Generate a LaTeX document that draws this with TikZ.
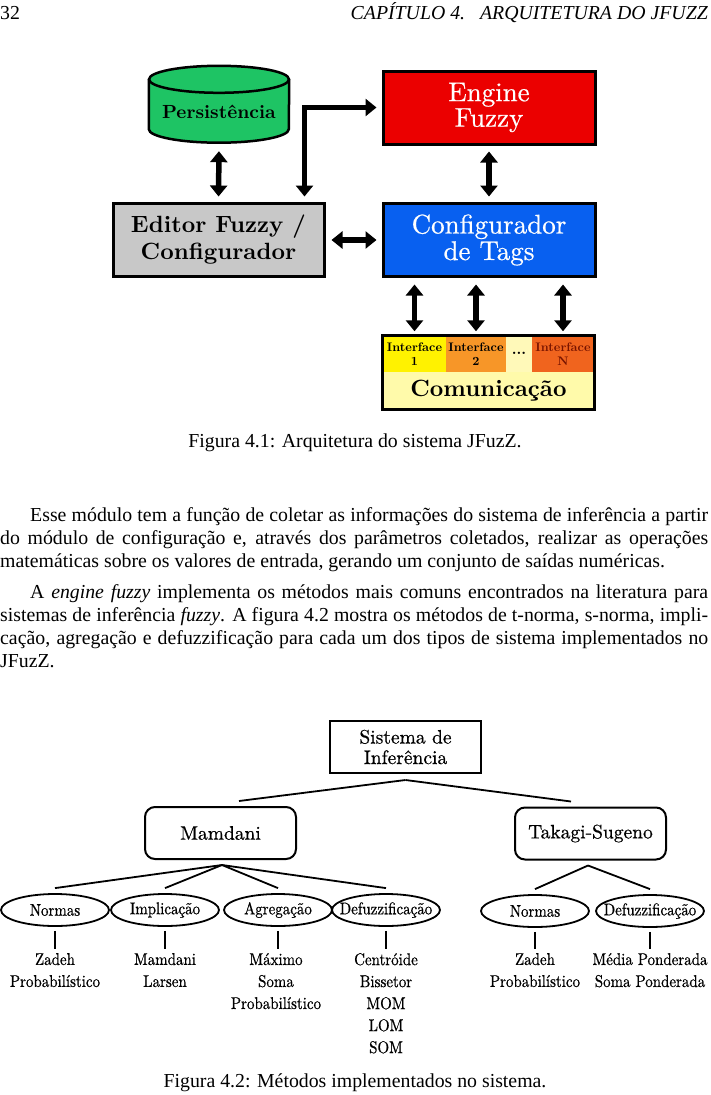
\documentclass[tikz,border=0pt]{standalone}
\usepackage{fontspec}
\setmainfont{Liberation Serif}
\newfontfamily\lmrf{lmroman10}[Extension=.otf,UprightFont=*-regular,BoldFont=*-bold,ItalicFont=*-italic]
\newfontfamily\lmhf{lmroman10-regular.otf}[FakeBold=0.6]
\newfontfamily\lmnf{lmroman10-regular.otf}[FakeStretch=0.88,FakeBold=0.6]
\usetikzlibrary{arrows.meta,calc,shapes.geometric}
\newcommand\bodyfont{\fontsize{19.8}{23}\selectfont}
\definecolor{persgreen}{RGB}{30,196,100}
\definecolor{engred}{RGB}{235,0,0}
\definecolor{confblue}{RGB}{8,96,240}
\definecolor{edgray}{RGB}{200,200,200}
\definecolor{ifyellow}{RGB}{255,242,0}
\definecolor{iforange}{RGB}{247,150,40}
\definecolor{ifpale}{RGB}{255,249,185}
\definecolor{ifdark}{RGB}{240,100,30}
\definecolor{compale}{RGB}{255,250,170}
\definecolor{ifnred}{RGB}{120,20,0}
\tikzset{
  bigbox/.style={draw, line width=3pt, minimum width=212pt, minimum height=73pt, inner sep=0pt, align=center},
  cell/.style={inner sep=0pt, minimum height=36pt, align=center, font=\lmrf\bfseries\fontsize{12.4}{13.5}\selectfont},
  dbl/.style={line width=5.5pt, line join=miter, {Triangle[width=17pt,length=11pt]}-{Triangle[width=17pt,length=11pt]}},
  treebox/.style={draw, line width=2pt, minimum width=151pt, minimum height=52pt, inner sep=0pt, align=center, font=\lmhf\fontsize{19.5}{20.5}\selectfont},
  tree/.style={line width=1.8pt},
  ell/.style={draw, ellipse, line width=1.8pt, minimum width=108pt, minimum height=32pt, inner sep=0pt, font=\lmnf\fontsize{17}{20}\selectfont},
  item/.style={anchor=north, inner sep=0pt, align=center, font=\lmnf\fontsize{17}{22}\selectfont},
  bodyline/.style={anchor=base west, inner sep=0pt, font=\bodyfont}
}
\begin{document}
\begin{tikzpicture}[x=1pt,y=-1pt]
\useasboundingbox[fill=white] (0,0) rectangle (710,1095);

% header
\node[bodyline] (pg) at (0,19) {32};
\node[anchor=base east, inner sep=0pt, font=\bodyfont\itshape] (hdr) at (708,19) {CAPÍTULO 4.\hspace{15pt}ARQUITETURA DO JFUZZ};

% ---------- Figure 1 ----------
\node[bigbox, fill=engred, text=white, font=\lmhf\fontsize{27}{25.5}\selectfont] (engine) at (489,107.5) {Engine\\Fuzzy};
\node[bigbox, fill=confblue, text=white, font=\lmhf\fontsize{27}{26.5}\selectfont] (conf) at (489,240) {Configurador\\de Tags};
\node[bigbox, minimum width=211pt, fill=edgray, font=\lmrf\bfseries\fontsize{23.5}{27}\selectfont] (editor) at (218.5,240) {Editor Fuzzy /\\Configurador};

% cylinder
\node[minimum width=140pt, minimum height=62pt, inner sep=0pt, font=\lmrf\bfseries\fontsize{19}{22}\selectfont] (pers) at (219,112) {Persistência};
\fill[persgreen] ($(pers.north west)+(0,-1.5)$) -- ($(pers.south west)+(0,-14)$)
  arc[start angle=180, end angle=360, x radius=70pt, y radius=13.5pt]
  -- ($(pers.north east)+(0,-1.5)$) -- cycle;
\draw[line width=2.5pt] ($(pers.north west)+(0,-1.5)$) -- ($(pers.south west)+(0,-14)$)
  arc[start angle=180, end angle=360, x radius=70pt, y radius=13.5pt]
  -- ($(pers.north east)+(0,-1.5)$);
\draw[line width=2.5pt, fill=persgreen] ($(pers.north)+(0,-1.5)$) ellipse[x radius=70pt, y radius=13.5pt];
\node[inner sep=0pt, font=\lmrf\bfseries\fontsize{19}{22}\selectfont] at (pers.center) {Persistência};

% communication block
\node[cell, fill=ifyellow, minimum width=63pt] (i1) at (414.5,354) {Interface\\1};
\node[cell, fill=iforange, minimum width=60pt] (i2) at (476,354) {Interface\\2};
\node[cell, fill=ifpale, minimum width=26pt, font=\lmrf\bfseries\fontsize{15}{15}\selectfont] (idots) at (519,354) {\raisebox{2pt}{...}};
\node[cell, fill=ifdark, minimum width=62pt, text=ifnred] (iN) at (563,354) {Interface\\N};
\node[inner sep=0pt, fill=compale, minimum width=211pt, minimum height=37pt, font=\lmrf\bfseries\fontsize{23.5}{26}\selectfont] (com) at (488.5,390.5) {Comunicação};
\draw[line width=3pt] (i1.north west) rectangle (com.south east);

% arrows fig 1
\draw[dbl, shorten <=8pt, shorten >=5.5pt] (pers.south) -- (editor.north);
\coordinate (ec) at ($(editor.north east)+(-21,0)$);
\draw[dbl, shorten <=5pt, shorten >=5.5pt] (engine.west) -| (ec);
\draw[dbl, shorten <=6pt, shorten >=5.5pt] (engine.south) -- (conf.north);
\draw[dbl, shorten <=6pt, shorten >=5pt] (editor.east) -- (conf.west);
\draw[dbl, shorten <=6.5pt, shorten >=4.5pt] (conf.south -| i1) -- (i1.north);
\draw[dbl, shorten <=6.5pt, shorten >=4.5pt] (conf.south -| i2) -- (i2.north);
\draw[dbl, shorten <=6.5pt, shorten >=4.5pt] (conf.south -| iN) -- (iN.north);

\node[anchor=base, inner sep=0pt, font=\bodyfont] (cap1) at (355,447) {Figura 4.1: Arquitetura do sistema JFuzZ.};

% ---------- body text ----------
\node[bodyline] (p1a) at (30,521) {\makebox[678pt][s]{Esse módulo tem a função de coletar as informações do sistema de inferência a partir}};
\node[bodyline] (p1b) at (0,544) {\makebox[708pt][s]{do módulo de configuração e, através dos parâmetros coletados, realizar as operações}};
\node[bodyline] (p1c) at (0,567) {matemáticas sobre os valores de entrada, gerando um conjunto de saídas numéricas.};
\node[bodyline] (p2a) at (30,598) {\makebox[678pt][s]{A \textit{engine fuzzy} implementa os métodos mais comuns encontrados na literatura para}};
\node[bodyline] (p2b) at (0,621) {\makebox[708pt][s]{sistemas de inferência \textit{fuzzy}. A figura 4.2 mostra os métodos de t-norma, s-norma, impli-}};
\node[bodyline] (p2c) at (0,644) {\makebox[708pt][s]{cação, agregação e defuzzificação para cada um dos tipos de sistema implementados no}};
\node[bodyline] (p2d) at (0,667) {JFuzZ.};

% ---------- Figure 2 ----------
\node[treebox] (sis) at (405.5,747) {Sistema de\\Inferência};
\node[treebox, rounded corners=10pt] (mam) at (220.5,833) {Mamdani};
\node[treebox, rounded corners=10pt] (ts) at (590.5,833.5) {Takagi-Sugeno};

\coordinate (s0) at ($(sis.south)+(0,6)$);
\draw[tree] (s0) -- ($(mam.north)+(18.5,-5)$);
\draw[tree] (s0) -- ($(ts.north)+(-19.5,-5)$);

\node[ell] (e1) at (55,910) {\makebox[0pt]{Normas}};
\node[ell] (e2) at (165,910) {\makebox[0pt]{Implicação}};
\node[ell] (e3) at (278,910) {\makebox[0pt]{Agregação}};
\node[ell] (e4) at (386,910) {\makebox[0pt]{Defuzzificação}};
\node[ell] (e5) at (535,911) {\makebox[0pt]{Normas}};
\node[ell] (e6) at (650,911) {\makebox[0pt]{Defuzzificação}};

\coordinate (m0) at ($(mam.south)+(1.5,5)$);
\coordinate (t0) at ($(ts.south)+(-2.5,5)$);
\foreach \e in {e1,e2,e3,e4} \draw[tree] (m0) -- ($(\e.north)+(0,-5)$);
\foreach \e in {e5,e6} \draw[tree] (t0) -- ($(\e.north)+(0,-5)$);

\node[item] (l1) at ($(e1.south)+(0,26)$) {Zadeh\\Probabilístico};
\node[item] (l2) at ($(e2.south)+(0,26)$) {Mamdani\\Larsen};
\node[item] (l3) at ($(e3.south)+(-2,26)$) {Máximo\\Soma\\Probabilístico};
\node[item] (l4) at ($(e4.south)+(0,26)$) {Centróide\\Bissetor\\MOM\\LOM\\SOM};
\node[item] (l5) at ($(e5.south)+(0,25)$) {Zadeh\\Probabilístico};
\node[item] (l6) at ($(e6.south)+(0,25)$) {Média Ponderada\\Soma Ponderada};

\foreach \i in {1,...,6} \draw[tree] (e\i.south) -- (l\i.north -| e\i.south) [shorten <=4pt, shorten >=4pt];

\node[anchor=base, inner sep=0pt, font=\bodyfont] (cap2) at (355,1087) {Figura 4.2: Métodos implementados no sistema.};
\end{tikzpicture}
\end{document}
